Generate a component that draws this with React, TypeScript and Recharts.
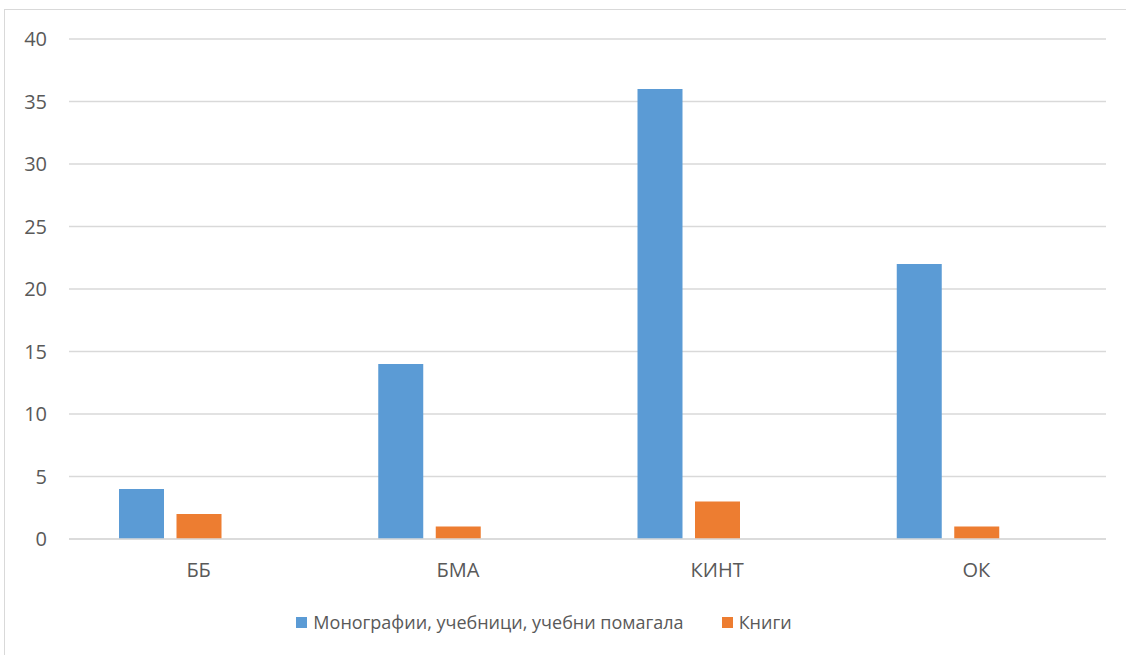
import { BarChart, Bar, XAxis, YAxis, CartesianGrid, Legend } from "recharts";

const categories = ["ББ", "БМА", "КИНТ", "ОК"];
const monographs = [4, 14, 36, 22];
const books = [2, 1, 3, 1];
// third series is empty in the source workbook but still reserves its slot
const emptySeries = [null, null, null, null];
const yTicks = [0, 5, 10, 15, 20, 25, 30, 35, 40];

const seriesNames = {
    monographs: "Монографии, учебници, учебни помагала",
    books: "Книги",
};
const legendOrder = ["monographs", "books"];

const chartData = categories.map((name, i) => ({
    name,
    monographs: monographs[i],
    books: books[i],
    empty: emptySeries[i],
}));

const textColor = "#595959";
const gridColor = "#d9d9d9";
const font = "'Open Sans', sans-serif";

function LegendContent({ payload }: any) {
    const items = (payload || [])
        .filter((p: any) => legendOrder.includes(p.dataKey))
        .sort((a: any, b: any) => legendOrder.indexOf(a.dataKey) - legendOrder.indexOf(b.dataKey));
    return (
        <div style={{ display: "flex", justifyContent: "center", alignItems: "center" }}>
            {items.map((item: any, i: number) => (
                <div
                    key={item.dataKey}
                    style={{ display: "flex", alignItems: "center", marginLeft: i > 0 ? 38 : 0 }}
                >
                    <span
                        style={{
                            display: "inline-block",
                            width: 11,
                            height: 11,
                            background: item.color,
                            marginRight: 6,
                        }}
                    />
                    <span style={{ color: textColor, fontSize: 18, fontFamily: font }}>{item.value}</span>
                </div>
            ))}
        </div>
    );
}

export default function App() {
    return (
        <div
            style={{
                position: "fixed",
                left: 0,
                top: 0,
                width: 1126,
                height: 655,
                overflow: "hidden",
                background: "#fff",
            }}
        >
            <div
                style={{
                    position: "absolute",
                    left: 4,
                    top: 9,
                    width: 1200,
                    height: 700,
                    border: `1.5px solid ${gridColor}`,
                }}
            />
            <div style={{ position: "absolute", left: 0, top: 0 }}>
                <BarChart
                    width={1126}
                    height={655}
                    data={chartData}
                    margin={{ top: 39, right: 20, left: 9, bottom: 0 }}
                    barSize={45}
                    barGap={12.5}
                    style={{ fontFamily: font }}
                >
                    <CartesianGrid vertical={false} stroke={gridColor} strokeWidth={1.5} />
                    <XAxis
                        dataKey="name"
                        height={116}
                        tickLine={false}
                        tickSize={0}
                        tickMargin={24}
                        axisLine={{ stroke: gridColor, strokeWidth: 1.5 }}
                        tick={{ fill: textColor, fontSize: 20 }}
                    />
                    <YAxis
                        width={60}
                        domain={[0, 40]}
                        ticks={yTicks}
                        axisLine={false}
                        tickLine={false}
                        tickSize={0}
                        tickMargin={22}
                        tick={{ fill: textColor, fontSize: 20 }}
                    />
                    <Legend
                        verticalAlign="middle"
                        content={<LegendContent />}
                        wrapperStyle={{ top: 610, left: -19, width: 1126 }}
                    />
                    <Bar
                        dataKey="monographs"
                        name={seriesNames.monographs}
                        fill="#5b9bd5"
                        isAnimationActive={false}
                    />
                    <Bar dataKey="books" name={seriesNames.books} fill="#ed7d31" isAnimationActive={false} />
                    <Bar dataKey="empty" fill="#a5a5a5" legendType="none" isAnimationActive={false} />
                </BarChart>
            </div>
        </div>
    );
}
